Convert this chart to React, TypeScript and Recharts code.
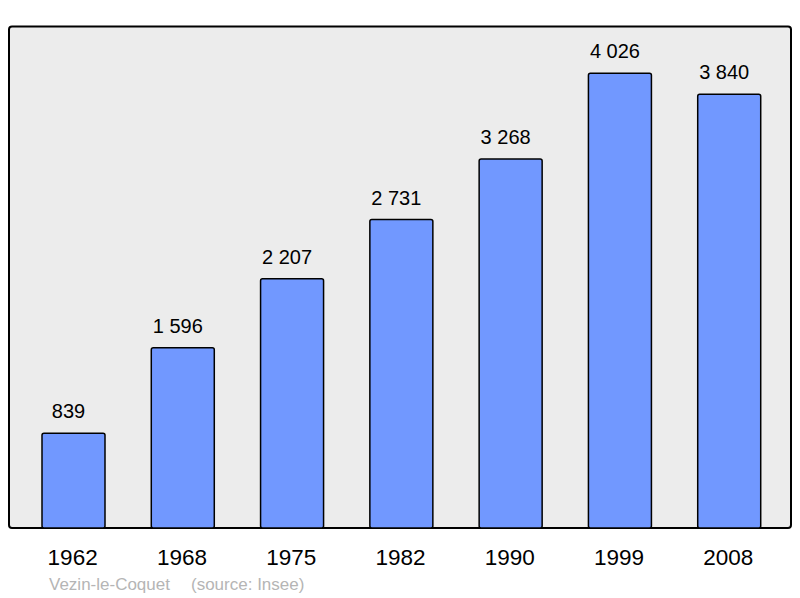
import React from "react";
import { BarChart, Bar, XAxis, YAxis, LabelList } from "recharts";

const years = ["1962", "1968", "1975", "1982", "1990", "1999", "2008"];
const population = [839, 1596, 2207, 2731, 3268, 4026, 3840];
const town = "Vezin-le-Coquet";
const source = "(source: Insee)";

const data = years.map((y, i) => ({ year: y, pop: population[i] }));

const fmt = (v: number) => String(v).replace(/\B(?=(\d{3})+(?!\d))/g, " ");

const FONT = "'Liberation Sans', Arial, sans-serif";

const Tick = (props: any) => {
  const { x, y, payload } = props;
  return (
    <text x={x - 1} y={y} dy={29} textAnchor="middle" fontFamily={FONT} fontSize={22.5} fill="#000">
      {payload.value}
    </text>
  );
};

const ValueLabel = (props: any) => {
  const { x, y, width, value } = props;
  return (
    <text x={x + width / 2 - 5} y={y - 15} textAnchor="middle" fontFamily={FONT} fontSize={20} fill="#000">
      {fmt(value)}
    </text>
  );
};

export default function App() {
  return (
    <div style={{ position: "absolute", left: 0, top: 0, width: 800, height: 598, background: "#fff" }}>
      <svg width={800} height={598} style={{ position: "absolute", left: 0, top: 0 }}>
        <rect x={9} y={26.5} width={782} height={501.5} rx={3} ry={3} fill="#ececec" stroke="#000" strokeWidth={2} />
        <text x={49} y={590} fontFamily={FONT} fontSize={17} fill="#b5b5b5">{town}</text>
        <text x={191} y={590} fontFamily={FONT} fontSize={17} fill="#b5b5b5">{source}</text>
      </svg>
      <div style={{ position: "absolute", left: 0, top: 0 }}>
        <BarChart width={800} height={598} data={data} margin={{ top: 26, right: 9, bottom: 40, left: 9 }}>
          <XAxis
            dataKey="year"
            axisLine={false}
            tickLine={false}
            height={30}
            padding={{ left: 10, right: 7 }}
            tick={<Tick />}
            interval={0}
          />
          <YAxis hide domain={[0, 4445]} type="number" allowDataOverflow />
          <Bar dataKey="pop" barSize={63} fill="#7198ff" stroke="#000" strokeWidth={1.5} radius={2} isAnimationActive={false}>
            <LabelList dataKey="pop" content={<ValueLabel />} />
          </Bar>
        </BarChart>
      </div>
    </div>
  );
}
